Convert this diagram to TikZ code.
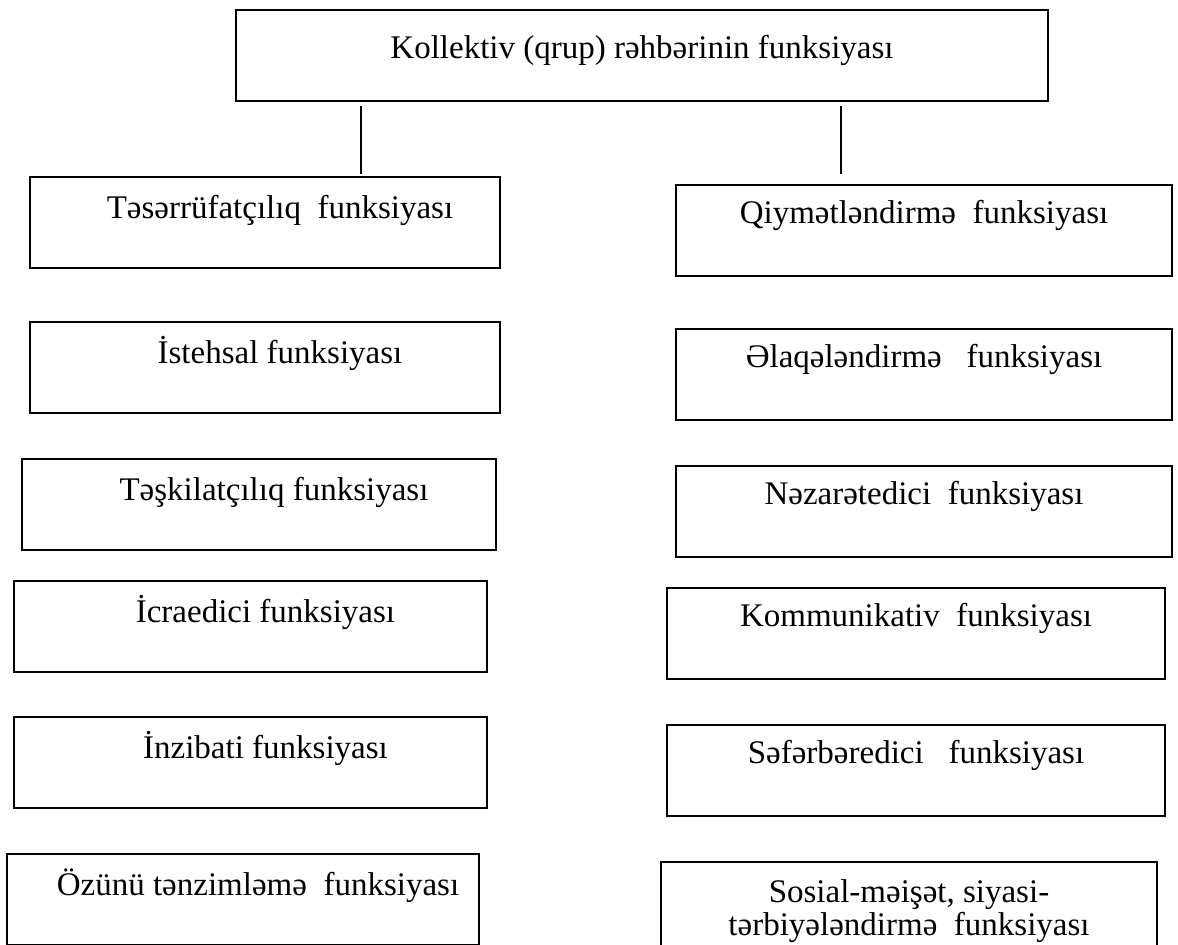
\documentclass[tikz,border=0pt]{standalone}
\usepackage{fontspec}
\setmainfont{Liberation Serif}
\usetikzlibrary{positioning}
\begin{document}
\begin{tikzpicture}[x=1pt, y=-1pt,
  fbox/.style={draw, line width=1.2pt, inner xsep=0pt, inner ysep=0pt, align=center, font=\fontsize{33}{33}\selectfont, text height=41pt, text depth=50pt},
  lbox/.style={fbox, execute at begin node={\hspace*{30pt}}},
  rbox/.style={fbox, minimum width=496pt, text height=38pt, text depth=53pt},
  link/.style={line width=1.8pt}]
\useasboundingbox (0,0) rectangle (1178,945);
\node[fbox, minimum width=812pt, text height=48pt, text depth=43pt] (head) at (642,55.5) {Kollektiv (qrup) rəhbərinin funksiyası};
\node[lbox, minimum width=470pt] (tas) at (265,222.5) {Təsərrüfatçılıq\ \ funksiyası};
\node[lbox, minimum width=470pt] (ist) at (265,367.5) {İstehsal funksiyası};
\node[lbox, minimum width=474pt] (tes) at (259,504.5) {Təşkilatçılıq funksiyası};
\node[lbox, minimum width=473pt] (icr) at (250.5,626.5) {İcraedici funksiyası};
\node[lbox, minimum width=473pt] (inz) at (250.5,762.5) {İnzibati funksiyası};
\node[lbox, minimum width=472pt] (ozu) at (243,899.5) {Özünü tənzimləmə\ \ funksiyası};
\node[rbox] (qiy) at (924,230.5) {Qiymətləndirmə\ \ funksiyası};
\node[rbox] (ela) at (924,374.5) {Əlaqələndirmə\ \ \ funksiyası};
\node[rbox] (nez) at (924,511.5) {Nəzarətedici\ \ funksiyası};
\node[rbox, minimum width=498pt] (kom) at (916,633.5) {Kommunikativ\ \ funksiyası};
\node[rbox, minimum width=498pt] (sef) at (916,770.5) {Səfərbəredici\ \ \ funksiyası};
\node[rbox, text height=73pt, text depth=18pt] (sos) at (909,907.5) {Sosial-məişət, siyasi-\\tərbiyələndirmə\ \ funksiyası};
\coordinate (lx) at (361,0);
\coordinate (rx) at (841,0);
\draw[link, shorten <=4pt, shorten >=2pt] (head.south -| lx) -- (tas.north -| lx);
\draw[link, shorten <=4pt, shorten >=10pt] (head.south -| rx) -- (qiy.north -| rx);
\end{tikzpicture}
\end{document}
